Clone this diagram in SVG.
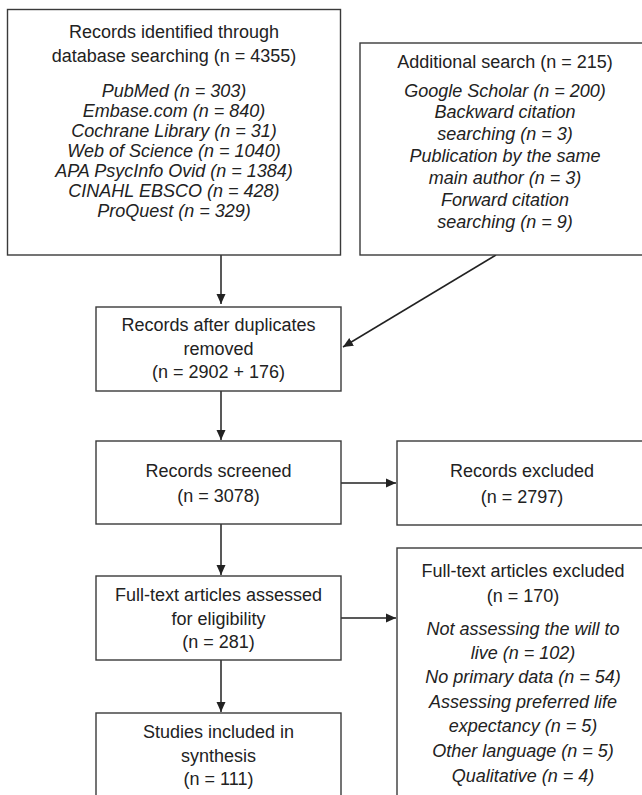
<svg xmlns="http://www.w3.org/2000/svg" width="642" height="795" viewBox="0 0 642 795">
<style>
.box{fill:#fff;stroke:#3a3a3a;stroke-width:1.4}
.t{font-family:"Liberation Sans",Arial,sans-serif;font-size:18px;fill:#222;text-anchor:middle}
.i{font-style:italic}
.c{stroke:#222;stroke-width:1.5;fill:none;marker-end:url(#ah)}
</style>
<defs>
<marker id="ah" viewBox="0 0 10 10" refX="10" refY="5" markerWidth="10" markerHeight="10" markerUnits="userSpaceOnUse" orient="auto">
<path d="M0,0.5 L10,5 L0,9.5 Z" fill="#222"/>
</marker>
</defs>
<rect width="642" height="795" fill="#fff"/>
<g id="connectors">
<path class="c" d="M221,255 V304"/>
<path class="c" d="M496,255 L343,347"/>
<path class="c" d="M221,391 V440"/>
<path class="c" d="M341,483 H396"/>
<path class="c" d="M221,524 V575"/>
<path class="c" d="M341,618 H396"/>
<path class="c" d="M221,660 V712"/>
</g>
<g id="identified">
<rect class="box" x="7.5" y="9.5" width="333" height="245.5"/>
<text class="t" x="174" y="38">Records identified through</text>
<text class="t" x="174" y="62">database searching (n = 4355)</text>
<text class="t i" x="174" y="97">PubMed (n = 303)</text>
<text class="t i" x="174" y="117">Embase.com (n = 840)</text>
<text class="t i" x="174" y="137">Cochrane Library (n = 31)</text>
<text class="t i" x="174" y="157">Web of Science (n = 1040)</text>
<text class="t i" x="174" y="177">APA PsycInfo Ovid (n = 1384)</text>
<text class="t i" x="174" y="197">CINAHL EBSCO (n = 428)</text>
<text class="t i" x="174" y="217">ProQuest (n = 329)</text>
</g>
<g id="additional">
<rect class="box" x="360" y="43" width="290" height="212"/>
<text class="t" x="505" y="68">Additional search (n = 215)</text>
<text class="t i" x="505" y="97">Google Scholar (n = 200)</text>
<text class="t i" x="505" y="118">Backward citation</text>
<text class="t i" x="505" y="140">searching (n = 3)</text>
<text class="t i" x="505" y="162">Publication by the same</text>
<text class="t i" x="505" y="184">main author (n = 3)</text>
<text class="t i" x="505" y="206">Forward citation</text>
<text class="t i" x="505" y="228">searching (n = 9)</text>
</g>
<g id="duplicates">
<rect class="box" x="96" y="307" width="245" height="84"/>
<text class="t" x="218.5" y="331">Records after duplicates</text>
<text class="t" x="218.5" y="355">removed</text>
<text class="t" x="218.5" y="378">(n = 2902 + 176)</text>
</g>
<g id="screened">
<rect class="box" x="96" y="441" width="245" height="83"/>
<text class="t" x="218.5" y="477">Records screened</text>
<text class="t" x="218.5" y="502">(n = 3078)</text>
</g>
<g id="excluded">
<rect class="box" x="397" y="441" width="253" height="84"/>
<text class="t" x="522" y="477">Records excluded</text>
<text class="t" x="522" y="503">(n = 2797)</text>
</g>
<g id="fulltext">
<rect class="box" x="96" y="576" width="245" height="84"/>
<text class="t" x="218.5" y="601">Full-text articles assessed</text>
<text class="t" x="218.5" y="625">for eligibility</text>
<text class="t" x="218.5" y="648">(n = 281)</text>
</g>
<g id="ftexcluded">
<rect class="box" x="397" y="548" width="253" height="260"/>
<text class="t" x="523" y="577">Full-text articles excluded</text>
<text class="t" x="523" y="602">(n = 170)</text>
<text class="t i" x="523" y="635">Not assessing the will to</text>
<text class="t i" x="523" y="659">live (n = 102)</text>
<text class="t i" x="523" y="683">No primary data (n = 54)</text>
<text class="t i" x="523" y="708">Assessing preferred life</text>
<text class="t i" x="523" y="732">expectancy (n = 5)</text>
<text class="t i" x="523" y="757">Other language (n = 5)</text>
<text class="t i" x="523" y="782">Qualitative (n = 4)</text>
</g>
<g id="included">
<rect class="box" x="96" y="713" width="245" height="95"/>
<text class="t" x="218.5" y="738">Studies included in</text>
<text class="t" x="218.5" y="762">synthesis</text>
<text class="t" x="218.5" y="785">(n = 111)</text>
</g>
</svg>
